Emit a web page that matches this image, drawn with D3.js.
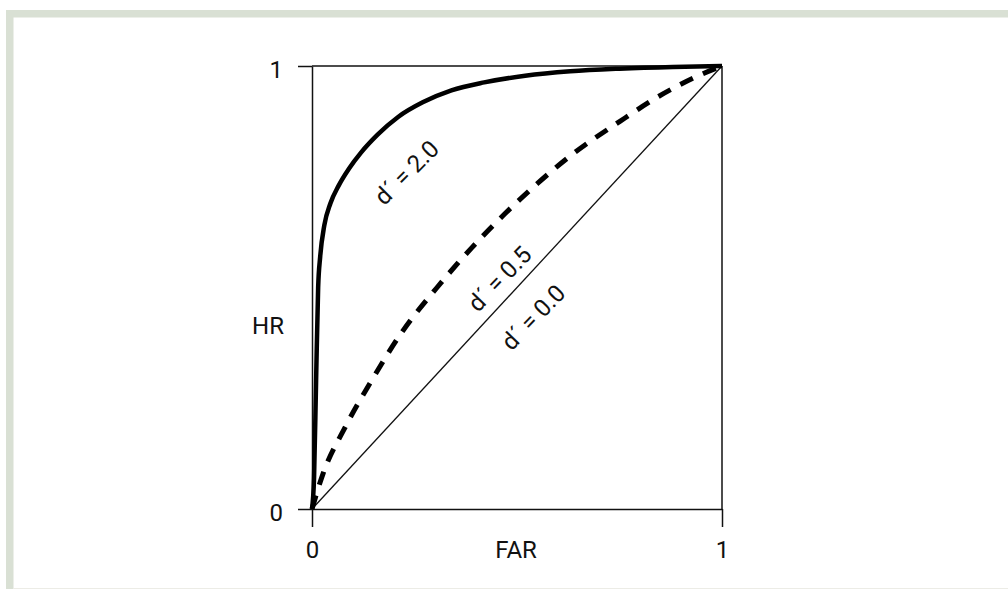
<!DOCTYPE html>
<html>
<head>
<meta charset="utf-8">
<script src="https://cdn.jsdelivr.net/npm/d3@7"></script>
<style>
  body { margin: 0; background: #fff; }
  text { font-family: Roboto, "Open Sans", sans-serif; fill: #111; }
</style>
</head>
<body>
<div id="wrapper"></div>
<script>
// values (FAR, HR)
const farStrong = [0, 0.005, 0.01, 0.015, 0.02, 0.03, 0.045, 0.065, 0.09, 0.12, 0.16, 0.21, 0.27, 0.34, 0.42, 0.52, 0.63, 0.75, 0.88, 1];
const hrStrong  = [0, 0.07, 0.29, 0.50, 0.57, 0.64, 0.69, 0.73, 0.768, 0.805, 0.845, 0.885, 0.918, 0.945, 0.963, 0.978, 0.988, 0.994, 0.998, 1];
const farWeak = [0, 0.027, 0.08, 0.146, 0.22, 0.305, 0.39, 0.471, 0.55, 0.637, 0.751, 0.856, 0.935, 1];
const hrWeak  = [0, 0.08, 0.183, 0.291, 0.40, 0.50, 0.59, 0.667, 0.735, 0.802, 0.875, 0.937, 0.975, 1];
const farNone = [0, 1];
const hrNone  = [0, 1];
const tickVals = [0, 1];
const curveLabels = ["d\u00B4 = 2.0", "d\u00B4 = 0.5", "d\u00B4 = 0.0"];

const W = 1008, H = 589;
const svg = d3.select("#wrapper").append("svg").attr("width", W).attr("height", H);

// frame
svg.append("rect").attr("x", 0).attr("y", 0).attr("width", W).attr("height", H).attr("fill", "#fff");
svg.append("rect").attr("x", 6).attr("y", 10).attr("width", W - 6).attr("height", 7.5).attr("fill", "#d9e0d4");
svg.append("rect").attr("x", 6).attr("y", 10).attr("width", 7.5).attr("height", H - 10).attr("fill", "#d9e0d4");
svg.append("line").attr("x1", 13).attr("x2", W).attr("y1", 588.5).attr("y2", 588.5).attr("stroke", "#ecece6");

var x = d3.scaleLinear().domain([0, 1]).range([312, 722]);
var y = d3.scaleLinear().domain([0, 1]).range([509, 66]);

// box top and right
svg.append("line").attr("x1", x(0)).attr("x2", x(1)).attr("y1", y(1)).attr("y2", y(1))
  .attr("stroke", "#111").attr("stroke-width", 1.5);
svg.append("line").attr("x1", x(1)).attr("x2", x(1)).attr("y1", y(1)).attr("y2", y(0))
  .attr("stroke", "#111").attr("stroke-width", 1.5);

var xAxisCall = d3.axisBottom(x).tickValues(tickVals).tickSize(18).tickSizeOuter(0).tickPadding(14).tickFormat(d3.format("d"));
var yAxisCall = d3.axisLeft(y).tickValues(tickVals).tickSize(14).tickSizeOuter(0).tickPadding(15).tickFormat(d3.format("d"));

var gx = svg.append("g").attr("transform", "translate(0," + y(0) + ")").call(xAxisCall);
var gy = svg.append("g").attr("transform", "translate(" + x(0) + ",0)").call(yAxisCall);
[gx, gy].forEach(function(g) {
  g.selectAll("path, line").attr("stroke", "#111").attr("stroke-width", 1.5);
  g.selectAll("text").style("font-size", "24px").attr("font-family", "Roboto, sans-serif").attr("fill", "#111");
});
gy.selectAll("text").attr("dy", "0.48em");

svg.append("text").attr("x", 516).attr("y", 558).attr("text-anchor", "middle")
  .style("font-size", "24px").text("FAR");
svg.append("text").attr("x", 268).attr("y", 334).attr("text-anchor", "middle")
  .style("font-size", "24px").text("HR");

const line = d3.line().x(d => x(d[0])).y(d => y(d[1]));

svg.append("path").datum(d3.zip(farNone, hrNone)).attr("d", line)
  .attr("fill", "none").attr("stroke", "#111").attr("stroke-width", 1.3);
svg.append("path").datum(d3.zip(farWeak, hrWeak)).attr("d", line.curve(d3.curveMonotoneX))
  .attr("fill", "none").attr("stroke", "#000").attr("stroke-width", 5).attr("stroke-dasharray", "14,11");
svg.append("path").datum(d3.zip(farStrong, hrStrong)).attr("d", line.curve(d3.curveMonotoneX))
  .attr("fill", "none").attr("stroke", "#000").attr("stroke-width", 4.5);

// curve labels
const labelSpots = [[0.23, 0.76, -45], [0.457, 0.52, -46], [0.539, 0.433, -46]];
curveLabels.forEach(function(t, i) {
  const p = labelSpots[i];
  svg.append("text")
    .attr("transform", "translate(" + x(p[0]) + "," + y(p[1]) + ") rotate(" + p[2] + ")")
    .attr("text-anchor", "middle").attr("dy", "0.36em")
    .style("font-size", "24px").text(t);
});
</script>
</body>
</html>
